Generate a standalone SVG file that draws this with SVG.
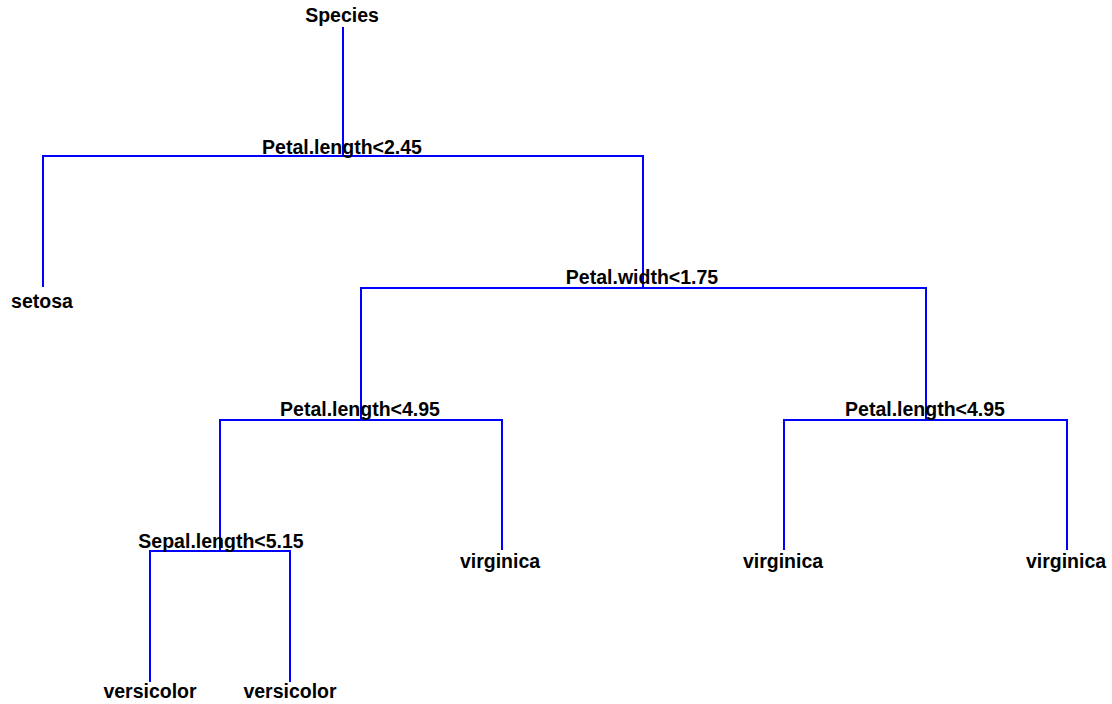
<svg xmlns="http://www.w3.org/2000/svg" width="1112" height="704" viewBox="0 0 1112 704">
<style>
.e{fill:none;stroke:#0000ff;stroke-width:2;stroke-linecap:square}
text{font-family:"Liberation Sans",Arial,sans-serif;font-weight:bold;font-size:19.5px;fill:#000;text-anchor:middle}
</style>
<rect width="1112" height="704" fill="#fff"/>
<g id="connectors">
<path class="e" d="M343,28V156"/>
<path class="e" d="M43,286V156H643V288"/>
<path class="e" d="M361,420V288H926V420"/>
<path class="e" d="M220,551V420H502V549"/>
<path class="e" d="M784,549V420H1067V549"/>
<path class="e" d="M150,681V551H290V681"/>
</g>
<g id="n-root"><text x="342" y="22">Species</text></g>
<g id="n-split1"><text x="342" y="154">Petal.length&lt;2.45</text></g>
<g id="n-setosa"><text x="42" y="308">setosa</text></g>
<g id="n-split2"><text x="642" y="284">Petal.width&lt;1.75</text></g>
<g id="n-split3"><text x="360" y="416">Petal.length&lt;4.95</text></g>
<g id="n-split4"><text x="925" y="416">Petal.length&lt;4.95</text></g>
<g id="n-split5"><text x="221" y="548">Sepal.length&lt;5.15</text></g>
<g id="n-virg1"><text x="500" y="568">virginica</text></g>
<g id="n-virg2"><text x="783" y="568">virginica</text></g>
<g id="n-virg3"><text x="1066" y="568">virginica</text></g>
<g id="n-vers1"><text x="150" y="698">versicolor</text></g>
<g id="n-vers2"><text x="290" y="698">versicolor</text></g>
</svg>
